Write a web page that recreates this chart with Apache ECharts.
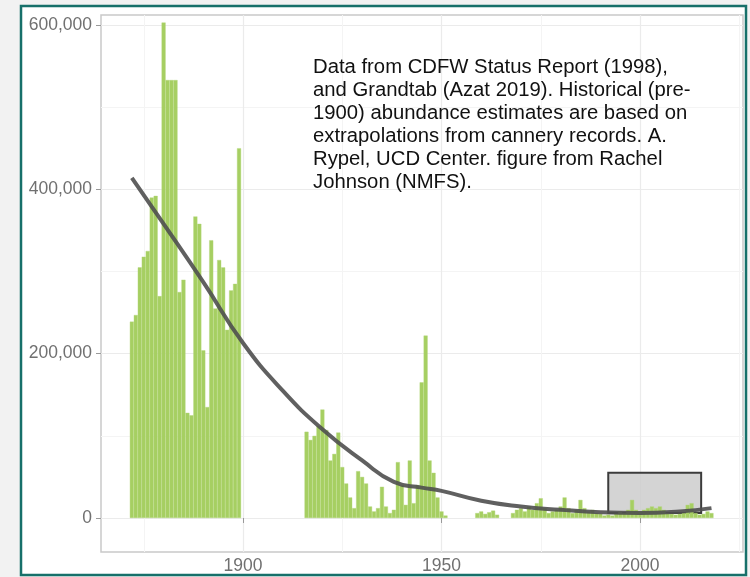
<!DOCTYPE html>
<html>
<head>
<meta charset="utf-8">
<script src="https://cdn.jsdelivr.net/npm/echarts@6/dist/echarts.min.js"></script>
<style>
  html, body { margin: 0; padding: 0; background: #f2f2f2; }
  #main { width: 750px; height: 577px; }
</style>
</head>
<body>
<div id="main"></div>
<script>
// yearly abundance
var years = [
  1872, 1873, 1874, 1875, 1876, 1877, 1878, 1879, 1880, 1881, 1882, 1883, 1884, 1885,
  1886, 1887, 1888, 1889, 1890, 1891, 1892, 1893, 1894, 1895, 1896, 1897, 1898, 1899,
  1916, 1917, 1918, 1919, 1920, 1921, 1922, 1923, 1924, 1925, 1926, 1927, 1928, 1929,
  1930, 1931, 1932, 1933, 1934, 1935, 1936, 1937, 1938, 1939, 1940, 1941, 1942, 1943,
  1944, 1945, 1946, 1947, 1948, 1949, 1950, 1951,
  1959, 1960, 1961, 1962, 1963, 1964,
  1968, 1969, 1970, 1971, 1972, 1973, 1974, 1975, 1976, 1977, 1978, 1979, 1980, 1981,
  1982, 1983, 1984, 1985, 1986, 1987, 1988, 1989, 1990, 1991, 1992, 1993, 1994, 1995,
  1996, 1997, 1998, 1999, 2000, 2001, 2002, 2003, 2004, 2005, 2006, 2007, 2008, 2009,
  2010, 2011, 2012, 2013, 2014, 2015, 2016, 2017, 2018
];
var abundance = [
  239000, 247000, 305000, 318000, 325000, 390000, 392000, 270000, 603000, 533000, 533000, 533000, 275000, 290000,
  128000, 125000, 367000, 358000, 204000, 135000, 338000, 255000, 314000, 305000, 229000, 277000, 285000, 450000,
  105000, 95000, 100000, 112000, 132000, 107000, 70000, 78000, 104000, 62000, 42000, 25000, 12000, 57000,
  50000, 42000, 14000, 8000, 12000, 38000, 14000, 6000, 10000, 68000, 40000, 16000, 70000, 18000,
  40000, 165000, 222000, 70000, 55000, 25000, 8000, 3000,
  6000, 8000, 5000, 7000, 9000, 4000,
  6000, 10000, 12000, 8000, 14000, 10000, 18000, 24000, 12000, 6000, 8000, 10000, 14000, 25000,
  12000, 6000, 10000, 22000, 12000, 8000, 10000, 6000, 5000, 3000, 4000, 3000, 5000, 8000,
  6000, 10000, 22000, 10000, 8000, 10000, 12000, 14000, 12000, 14000, 10000, 6000, 5000, 4000,
  5000, 6000, 16000, 18000, 6000, 4000, 5000, 8000, 6000
];

// smoothed trend line
var trendYears = [1872, 1880, 1890, 1900, 1910, 1920, 1930, 1938, 1945, 1950, 1960, 1970, 1980, 1990, 2000, 2010, 2018];
var trendValues = [414000, 358000, 287000, 213000, 155000, 108000, 70000, 44000, 37000, 33000, 21000, 14000, 10000, 7000, 6000, 8000, 12000];

// highlighted recent period
var boxYears = [1992, 2015.4];
var boxValues = [6000, 55000];

var yTicks = [0, 200000, 400000, 600000];
var yMinor = [100000, 300000, 500000];
var xTicks = [1900, 1950, 2000];
var xMinor = [1875, 1925, 1975, 2025];

var note = [
  'Data from CDFW Status Report (1998),',
  'and Grandtab (Azat 2019). Historical (pre-',
  '1900) abundance estimates are based on',
  'extrapolations from cannery records. A.',
  'Rypel, UCD Center. figure from Rachel',
  'Johnson (NMFS).'
];

var chart = echarts.init(document.getElementById('main'));

var bars = years.map(function (y, i) { return [y, abundance[i]]; });
var trend = trendYears.map(function (y, i) { return [y, trendValues[i]]; });

var X_MIN = 1864.23, X_MAX = 2025.94;
var Y_MIN = -41380, Y_MAX = 612170;
var labelStyle = { color: '#707070', fontSize: 17.5, fontFamily: 'Liberation Sans, Arial, sans-serif' };

chart.setOption({
  backgroundColor: '#f2f2f2',
  animation: false,
  grid: {
    left: 101, right: 7, top: 15, bottom: 25,
    show: true, backgroundColor: '#fff', borderColor: '#c9c9c9', borderWidth: 1.5
  },
  xAxis: [{
    type: 'value', min: X_MIN, max: X_MAX,
    axisLine: { show: false },
    axisTick: { show: true, length: 5, customValues: xTicks, lineStyle: { color: '#999' } },
    axisLabel: Object.assign({ customValues: xTicks, margin: 5, formatter: function (v) { return String(v); } }, labelStyle),
    splitLine: { show: true, lineStyle: { color: '#ebebeb', width: 1.2 } }
  }, {
    type: 'value', min: X_MIN, max: X_MAX, position: 'bottom',
    axisLine: { show: false },
    axisTick: { show: false, customValues: xMinor },
    axisLabel: { show: false, customValues: xMinor },
    splitLine: { show: true, lineStyle: { color: '#f4f4f4', width: 1 } }
  }],
  yAxis: [{
    type: 'value', min: Y_MIN, max: Y_MAX,
    axisLine: { show: false },
    axisTick: { show: true, length: 5, customValues: yTicks, lineStyle: { color: '#999' } },
    axisLabel: Object.assign({
      customValues: yTicks, margin: 9,
      formatter: function (v) { return v.toLocaleString('en-US'); }
    }, labelStyle),
    splitLine: { show: true, lineStyle: { color: '#ebebeb', width: 1.2 } }
  }, {
    type: 'value', min: Y_MIN, max: Y_MAX, position: 'left',
    axisLine: { show: false },
    axisTick: { show: false, customValues: yMinor },
    axisLabel: { show: false, customValues: yMinor },
    splitLine: { show: true, lineStyle: { color: '#f4f4f4', width: 1 } }
  }],
  series: [{
    type: 'bar',
    data: bars,
    barWidth: 4,
    itemStyle: { color: '#a6cf62', borderColor: '#b4d67a', borderWidth: 0.4 },
    markArea: {
      silent: true,
      itemStyle: { color: 'rgba(205,205,205,0.85)', borderColor: '#3c3c3c', borderWidth: 2 },
      data: [[{ coord: [boxYears[0], boxValues[0]] }, { coord: [boxYears[1], boxValues[1]] }]]
    }
  }, {
    type: 'line',
    data: trend,
    smooth: true,
    showSymbol: false,
    z: 5,
    lineStyle: { color: '#4f4f4f', width: 4, opacity: 0.9 }
  }],
  graphic: [{
    type: 'rect', z: -1, silent: true,
    shape: { x: 21, y: 6, width: 725, height: 569 },
    style: { fill: '#fff', stroke: '#17706a', lineWidth: 2.5 }
  }, {
    type: 'text', left: 313, top: 56, z: 100, scaleX: 1.04,
    style: {
      text: note.join('\n'),
      fill: '#111',
      fontSize: 19.5,
      lineHeight: 23,
      fontFamily: 'Liberation Sans, Arial, sans-serif'
    }
  }]
});
</script>
</body>
</html>
